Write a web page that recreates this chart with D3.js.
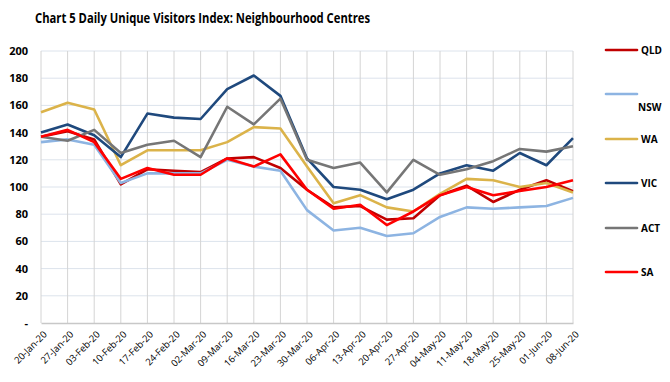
<!DOCTYPE html>
<meta charset="utf-8">
<style>
    body { margin: 0; background: #fff; }
    svg text { font-family: "Open Sans", "Noto Sans", sans-serif; fill: #000; }
    .yaxis text { font-size: 11px; font-weight: bold; }
    .xaxis text { font-size: 9.5px; }
    .legend text { font-size: 10px; font-weight: bold; }
</style>

<div class="chart"></div>

<script src="https://cdn.jsdelivr.net/npm/d3@7"></script>

<script>
    // categories (weeks)
    var dates = ["20-Jan-20","27-Jan-20","03-Feb-20","10-Feb-20","17-Feb-20","24-Feb-20","02-Mar-20",
        "09-Mar-20","16-Mar-20","23-Mar-20","30-Mar-20","06-Apr-20","13-Apr-20","20-Apr-20",
        "27-Apr-20","04-May-20","11-May-20","18-May-20","25-May-20","01-Jun-20","08-Jun-20"];

    var yTicks = [0,20,40,60,80,100,120,140,160,180,200];

    // series values
    var qld = [137,141,135,102,113,112,111,121,122,114,98,85,86,76,77,94,101,89,98,105,97];
    var nsw = [133,135,131,103,110,110,110,120,115,112,83,68,70,64,66,78,85,84,85,86,92];
    var wa  = [155,162,157,116,127,127,127,133,144,143,115,88,94,85,82,95,106,105,100,103,96];
    var vic = [140,146,138,122,154,151,150,172,182,167,121,100,98,91,98,110,116,112,125,116,136];
    var act = [137,134,142,125,131,134,122,159,146,165,120,114,118,96,120,109,113,119,128,126,130];
    var sa  = [137,142,133,106,114,109,109,121,115,124,98,84,87,72,82,94,100,94,97,100,105];

    var series = [
        {name: "QLD", values: qld, color: "#c00000"},
        {name: "NSW", values: nsw, color: "#8db4e2"},
        {name: "WA",  values: wa,  color: "#dbb34a"},
        {name: "VIC", values: vic, color: "#1f497d"},
        {name: "ACT", values: act, color: "#767676"},
        {name: "SA",  values: sa,  color: "#ff0000"}
    ];

    var width = 670, height = 382;
    var plot = {left: 41, right: 573, top: 51, bottom: 323};

    var svg = d3.select('.chart').append('svg')
        .attr('width', width)
        .attr('height', height);

    // title, squeezed to the reference width (narrow font look)
    svg.append('text')
        .attr('x', 35).attr('y', 23)
        .attr('font-weight', 'bold')
        .attr('font-size', 15)
        .attr('textLength', 335)
        .attr('lengthAdjust', 'spacingAndGlyphs')
        .text('Chart 5 Daily Unique Visitors Index: Neighbourhood Centres');

    var x = d3.scalePoint()
        .domain(dates)
        .range([plot.left, plot.right]);

    var y = d3.scaleLinear()
        .domain([0, 200])
        .range([plot.bottom, plot.top]);

    // horizontal gridlines
    svg.append('g').selectAll('line')
        .data(yTicks.filter(function(d){ return d > 0; }))
        .enter().append('line')
        .attr('x1', plot.left).attr('x2', plot.right)
        .attr('y1', function(d){ return y(d); })
        .attr('y2', function(d){ return y(d); })
        .attr('stroke', '#dce3ec')
        .attr('stroke-width', 1);

    // vertical gridlines
    svg.append('g').selectAll('line')
        .data(dates)
        .enter().append('line')
        .attr('x1', function(d){ return x(d); })
        .attr('x2', function(d){ return x(d); })
        .attr('y1', plot.top).attr('y2', plot.bottom)
        .attr('stroke', '#d4d4d4')
        .attr('stroke-width', 1);

    // y axis labels
    var yAxis = d3.axisLeft(y)
        .tickValues(yTicks)
        .tickSize(0)
        .tickPadding(13)
        .tickFormat(function(d){ return d === 0 ? '-' : d; });

    svg.append('g')
        .attr('class', 'yaxis')
        .attr('transform', 'translate(' + plot.left + ',0)')
        .call(yAxis)
        .call(function(g){ g.select('.domain').remove(); });

    // x axis
    var xAxis = d3.axisBottom(x).tickSize(0).tickPadding(0);

    var gx = svg.append('g')
        .attr('class', 'xaxis')
        .attr('transform', 'translate(0,' + plot.bottom + ')')
        .call(xAxis);
    gx.select('.domain')
        .attr('stroke', '#c8c8c8')
        .attr('stroke-width', 1.5);
    gx.selectAll('text')
        .attr('text-anchor', 'end')
        .attr('dy', null)
        .attr('y', 0)
        .attr('transform', 'translate(6,12) rotate(-45)');

    // lines
    var line = d3.line()
        .x(function(d, i){ return x(dates[i]); })
        .y(function(d){ return y(d); });

    svg.append('g').selectAll('path')
        .data(series)
        .enter().append('path')
        .attr('d', function(d){ return line(d.values); })
        .attr('fill', 'none')
        .attr('stroke', function(d){ return d.color; })
        .attr('stroke-width', 2.6)
        .attr('stroke-linejoin', 'round');

    // legend
    var legendY = [50, 94, 139, 183, 228, 272];
    var lg = svg.append('g').attr('class', 'legend')
        .selectAll('g')
        .data(series)
        .enter().append('g')
        .attr('transform', function(d, i){ return 'translate(606,' + legendY[i] + ')'; });

    lg.append('line')
        .attr('x1', 0).attr('x2', 31)
        .attr('stroke', function(d){ return d.color; })
        .attr('stroke-width', 2.6)
        .attr('stroke-linecap', 'round');

    lg.append('text')
        .attr('x', function(d){ return d.name === 'NSW' ? 32 : 35; })
        .attr('y', function(d){ return d.name === 'NSW' ? 17 : 4; })
        .text(function(d){ return d.name; });
</script>
